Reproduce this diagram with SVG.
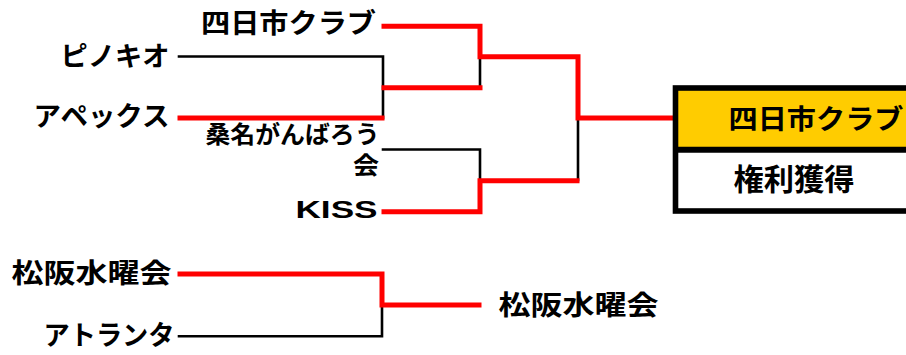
<svg xmlns="http://www.w3.org/2000/svg" width="906" height="355" viewBox="0 0 906 355">
<style>
.t{font-family:"Noto Sans CJK JP","Noto Sans CJK SC",sans-serif;font-weight:bold;fill:#000}
.k{font-family:"Liberation Sans",Arial,sans-serif;font-weight:bold;fill:#000}
.b{fill:none;stroke:#000;stroke-width:2.6;stroke-linecap:square}
.r{fill:none;stroke:#FF0000;stroke-width:5;stroke-linecap:square;stroke-linejoin:miter}
</style>
<rect x="0" y="0" width="906" height="355" fill="#fff"/>
<g id="connectors">
<polyline class="b" points="179,56.5 383,56.5 383,118"/>
<polyline class="b" points="480,57 480,88"/>
<polyline class="b" points="383,149.5 480,149.5 480,180"/>
<polyline class="b" points="578,118 578,180"/>
<polyline class="b" points="179,336.3 382,336.3 382,305"/>
<polyline class="r" points="384,26.2 480,26.2 480,56.8 578,56.8 578,118 672,118"/>
<polyline class="r" points="180,118 382,118"/>
<polyline class="r" points="384,87.7 480,87.7"/>
<polyline class="r" points="384,211.7 480,211.7 480,180.8 577,180.8"/>
<polyline class="r" points="180,274 382,274 382,305 479,305"/>
</g>
<g id="n-yokkaichi"><text class="t" x="376" y="32.8" font-size="27" text-anchor="end" textLength="175" lengthAdjust="spacingAndGlyphs">四日市クラブ</text></g>
<g id="n-pinokio"><text class="t" x="169.5" y="65.6" font-size="27" text-anchor="end" textLength="109" lengthAdjust="spacingAndGlyphs">ピノキオ</text></g>
<g id="n-apex"><text class="t" x="169.5" y="126" font-size="27" text-anchor="end" textLength="136" lengthAdjust="spacingAndGlyphs">アペックス</text></g>
<g id="n-kuwana">
<text class="t" x="379.5" y="143.1" font-size="24" text-anchor="end" textLength="174" lengthAdjust="spacingAndGlyphs">桑名がんばろう</text>
<text class="t" x="379" y="174.1" font-size="24" text-anchor="end" textLength="26" lengthAdjust="spacingAndGlyphs">会</text>
</g>
<g id="n-kiss"><text class="k" x="377.5" y="218.3" font-size="24" text-anchor="end" textLength="82" lengthAdjust="spacingAndGlyphs">KISS</text></g>
<g id="n-matsusaka"><text class="t" x="171.5" y="282.8" font-size="27" text-anchor="end" textLength="160" lengthAdjust="spacingAndGlyphs">松阪水曜会</text></g>
<g id="n-atlanta"><text class="t" x="174.5" y="344.5" font-size="27" text-anchor="end" textLength="131" lengthAdjust="spacingAndGlyphs">アトランタ</text></g>
<g id="n-winner-bottom"><text class="t" x="498.5" y="314.8" font-size="27" textLength="160" lengthAdjust="spacingAndGlyphs">松阪水曜会</text></g>
<g id="n-champion">
<rect x="675.5" y="88" width="260" height="61.7" fill="#FFCC00"/>
<rect x="675.5" y="88" width="260" height="123" fill="none" stroke="#000" stroke-width="5.6"/>
<line x1="675.5" y1="149.7" x2="935" y2="149.7" stroke="#000" stroke-width="6"/>
<text class="t" x="728.5" y="128.6" font-size="27" textLength="175" lengthAdjust="spacingAndGlyphs">四日市クラブ</text>
<text class="t" x="733.5" y="190.4" font-size="30" textLength="121" lengthAdjust="spacingAndGlyphs">権利獲得</text>
</g>
</svg>
